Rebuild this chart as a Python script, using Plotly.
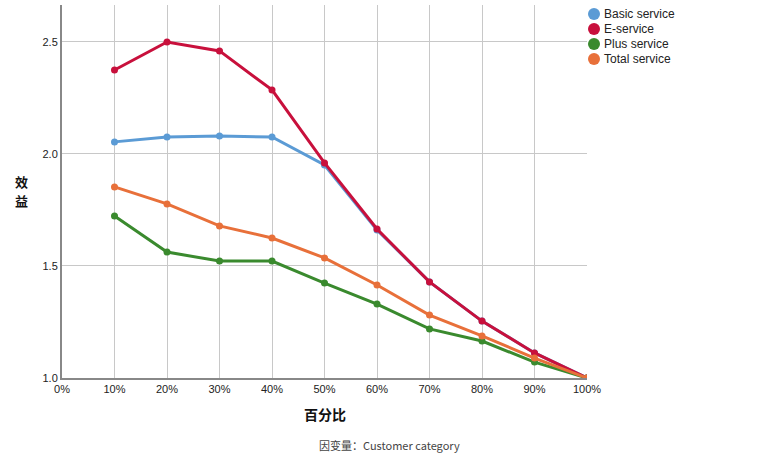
import plotly.graph_objects as go

x_pct = [10, 20, 30, 40, 50, 60, 70, 80, 90, 100]
x_ticks = [0, 10, 20, 30, 40, 50, 60, 70, 80, 90, 100]
basic = [2.054, 2.076, 2.080, 2.076, 1.951, 1.661, 1.429, 1.254, 1.112, 1.0]
eserv = [2.375, 2.500, 2.460, 2.286, 1.960, 1.665, 1.429, 1.254, 1.112, 1.0]
plus = [1.723, 1.562, 1.522, 1.522, 1.424, 1.330, 1.219, 1.165, 1.071, 1.0]
total = [1.853, 1.777, 1.679, 1.625, 1.536, 1.415, 1.281, 1.188, 1.089, 1.0]

names = ["Basic service", "E-service", "Plus service", "Total service"]
series = [basic, eserv, plus, total]
colors = ["#5b9bd5", "#c8103c", "#3a8a2e", "#e8703a"]

W, H = 784, 462
ML, MR, MT, MB = 62, 197, 5, 84
pw, ph = W - ML - MR, H - MT - MB


def px_to_paper(x, y):
    return (x - ML) / pw, (H - MB - y) / ph


fig = go.Figure()
for n, s, c in zip(names, series, colors):
    fig.add_trace(go.Scatter(x=x_pct, y=s, mode="lines+markers", name=n,
                             line=dict(color=c, width=3), marker=dict(color=c, size=7),
                             showlegend=False))

annotations = []
shapes = []
# legend: circles + labels
for i, (n, c) in enumerate(zip(names, colors)):
    cy = 14 + 15 * i
    x0, y0 = px_to_paper(588, cy - 6)
    x1, y1 = px_to_paper(600, cy + 6)
    shapes.append(dict(type="circle", xref="paper", yref="paper", x0=x0, x1=x1,
                       y0=y1, y1=y0, fillcolor=c, line=dict(width=0)))
    tx, ty = px_to_paper(602, cy)
    annotations.append(dict(text=n, x=tx, y=ty, xref="paper", yref="paper",
                            showarrow=False, xanchor="left", yanchor="middle",
                            font=dict(size=12, color="#222")))

for ch, cy in (("效", 181), ("益", 200)):
    yx, yy = px_to_paper(22, cy)
    annotations.append(dict(text=f"<b>{ch}</b>", x=yx, y=yy, xref="paper", yref="paper",
                            showarrow=False, font=dict(family="Noto Sans CJK SC", size=13, color="#111"),
                            xanchor="center", yanchor="middle"))
xx, xy = px_to_paper(325, 414)
annotations.append(dict(text="<b>百分比</b>", x=xx, y=xy, xref="paper", yref="paper",
                        showarrow=False, font=dict(family="Noto Sans CJK SC", size=14, color="#111"),
                        xanchor="center", yanchor="middle"))
sx, sy = px_to_paper(389, 445)
annotations.append(dict(text="因变量：Customer category", x=sx, y=sy, xref="paper", yref="paper",
                        showarrow=False, font=dict(family="Noto Sans CJK SC, Liberation Sans", size=11, color="#444"),
                        xanchor="center", yanchor="middle"))

fig.update_layout(
    width=W, height=H,
    margin=dict(l=ML, r=MR, t=MT, b=MB),
    plot_bgcolor="white", paper_bgcolor="white",
    font=dict(family="Liberation Sans, Arial", size=11, color="#222"),
    showlegend=False,
    annotations=annotations,
    shapes=shapes,
)

fig.update_xaxes(range=[0, 100], tickvals=x_ticks, ticktext=[f"{v}%" for v in x_ticks],
                 showgrid=True, gridcolor="#c8c8c8", gridwidth=1,
                 showline=True, linecolor="#888888", linewidth=2, zeroline=False,
                 ticks="", tickfont=dict(size=11))
fig.update_yaxes(range=[1.0, 2.665], tickvals=[1.0, 1.5, 2.0, 2.5],
                 ticktext=["1.0", "1.5", "2.0", "2.5"],
                 showgrid=True, gridcolor="#c8c8c8", gridwidth=1,
                 showline=True, linecolor="#888888", linewidth=2, zeroline=False,
                 ticks="", tickfont=dict(size=11))

fig.write_html("out.html", config={"displayModeBar": False},
               post_script="document.body.style.margin='0';")
